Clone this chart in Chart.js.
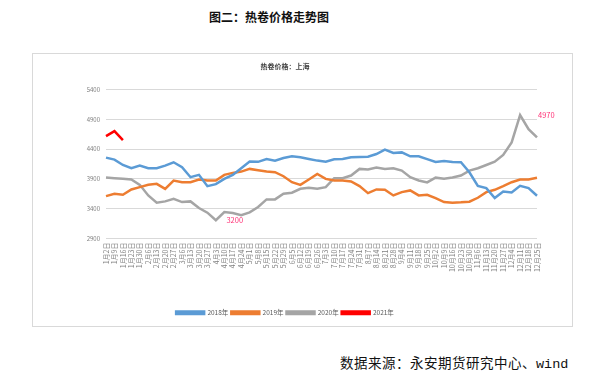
<!DOCTYPE html>
<html>
<head>
<meta charset="utf-8">
<script src="https://cdn.jsdelivr.net/npm/chart.js@4.4.1/dist/chart.umd.min.js"></script>
<style>
  html, body { margin:0; padding:0; background:#fff; }
  body { width:608px; height:378px; position:relative; overflow:hidden; font-family:"Noto Sans CJK SC", sans-serif; }
  #title { position:absolute; left:0; width:538px; top:8px; text-align:center; font-size:12px; font-weight:bold; color:#111; line-height:18px; }
  #box { position:absolute; left:32px; top:53px; width:539px; height:272px; border:1px solid #d9d9d9; }
  #wrap { position:absolute; left:0; top:0; width:539px; height:272px; }
  #source { position:absolute; left:340px; top:352px; font-size:13.5px; letter-spacing:0.5px; color:#111; line-height:20px; white-space:nowrap; }
  #source span { font-family:"Liberation Mono", monospace; letter-spacing:0; }
</style>
</head>
<body>
<div id="title">图二：热卷价格走势图</div>
<div id="box"><div id="wrap"><canvas id="c"></canvas></div></div>
<div id="source">数据来源：永安期货研究中心、<span>wind</span></div>
<script>
const categories = ['1月2日','1月9日','1月16日','1月23日','1月30日','2月6日','2月13日','2月20日','2月27日','3月6日','3月13日','3月20日','3月27日','4月3日','4月10日','4月17日','4月24日','5月1日','5月8日','5月15日','5月22日','5月29日','6月5日','6月12日','6月19日','6月26日','7月3日','7月10日','7月17日','7月24日','7月31日','8月7日','8月14日','8月21日','8月28日','9月4日','9月11日','9月18日','9月25日','10月2日','10月9日','10月16日','10月23日','10月30日','11月6日','11月13日','11月20日','11月27日','12月4日','12月11日','12月18日','12月25日'];
const seriesNames = ['2018年','2019年','2020年','2021年'];
const s2018 = [4256,4222,4133,4078,4122,4078,4078,4122,4178,4094,3928,3967,3778,3811,3900,3967,4078,4189,4185,4233,4206,4250,4278,4261,4233,4206,4189,4228,4233,4261,4267,4272,4317,4389,4333,4344,4278,4278,4230,4183,4200,4183,4178,4011,3783,3744,3578,3689,3672,3783,3744,3617];
const s2019 = [3611,3650,3633,3722,3761,3800,3817,3733,3872,3844,3844,3889,3872,3872,3967,4000,4022,4067,4045,4022,4011,3944,3844,3800,3889,3983,3900,3872,3872,3856,3778,3661,3722,3717,3622,3678,3706,3622,3633,3578,3511,3500,3506,3517,3583,3678,3717,3778,3844,3889,3889,3917];
const s2020 = [3922,3911,3900,3889,3800,3622,3500,3522,3567,3511,3522,3411,3333,3206,3344,3328,3289,3338,3428,3556,3556,3650,3667,3733,3750,3733,3761,3911,3911,3956,4067,4056,4089,4067,4078,4039,3928,3872,3840,3920,3900,3922,3956,4039,4078,4133,4189,4300,4511,4970,4733,4594];
const s2021 = [4617,4700,4550];
const yTicks = [2900,3400,3900,4400,4900,5400];
const chartTitle = '热卷价格：上海';
const notes = [
  {index:51, value:4970, text:'4970', align:'left'},
  {index:15, value:3200, text:'3200', align:'center'}
];
const colors = ['#5B9BD5','#ED7D31','#A5A5A5','#FF0000'];

const noteColor = '#FF3377';
const notePlugin = {
  id:'notes',
  afterDatasetsDraw(chart){
    const {ctx, scales:{x, y}} = chart;
    ctx.save();
    ctx.font = '7.5px "Noto Sans CJK SC", sans-serif';
    ctx.fillStyle = noteColor;
    ctx.textBaseline = 'middle';
    notes.forEach(n => {
      let px = x.getPixelForValue(n.index);
      const py = y.getPixelForValue(n.value);
      if (n.align === 'left') { ctx.textAlign = 'left'; px += 1; }
      else { ctx.textAlign = 'center'; px += 2; }
      ctx.fillText(n.text, px, py);
    });
    ctx.restore();
  }
};

const data = [s2018, s2019, s2020, s2021];
new Chart(document.getElementById('c'), {
  type:'line',
  data:{
    labels:categories,
    datasets: data.map((d,i)=>({
      label:seriesNames[i], data:d, borderColor:colors[i], backgroundColor:colors[i],
      borderWidth:2.5, pointRadius:0, tension:0, fill:false
    }))
  },
  options:{
    responsive:true, maintainAspectRatio:false, animation:false,
    layout:{padding:{left:0, right:35, top:0, bottom:0}},
    plugins:{
      title:{display:true, text:chartTitle, color:'#404040', font:{size:7, weight:'bold', family:'"Noto Sans CJK SC", sans-serif'}, padding:{top:8, bottom:19}},
      legend:{position:'bottom', labels:{boxWidth:28, boxHeight:2.5, padding:3, color:'#595959', font:{size:6.5, family:'"Noto Sans CJK SC", sans-serif'}}},
      tooltip:{enabled:false}
    },
    scales:{
      x:{
        grid:{display:false, drawTicks:false},
        border:{display:false},
        ticks:{autoSkip:false, minRotation:90, maxRotation:90, color:'#808080', padding:4, font:{size:7, family:'"Noto Sans CJK SC", sans-serif'}},
        afterFit(s){ s.height = 68; }
      },
      y:{
        min:2900, max:5400,
        afterBuildTicks(s){ s.ticks = yTicks.map(v=>({value:v})); },
        grid:{color:'#d9d9d9', lineWidth:1, drawTicks:false},
        border:{display:false},
        ticks:{color:'#808080', padding:6, font:{size:6, family:'"Noto Sans CJK SC", sans-serif'}, callback:(v)=>String(v)},
        afterFit(s){ s.width = 73; }
      }
    }
  },
  plugins:[notePlugin]
});
</script>
</body>
</html>
